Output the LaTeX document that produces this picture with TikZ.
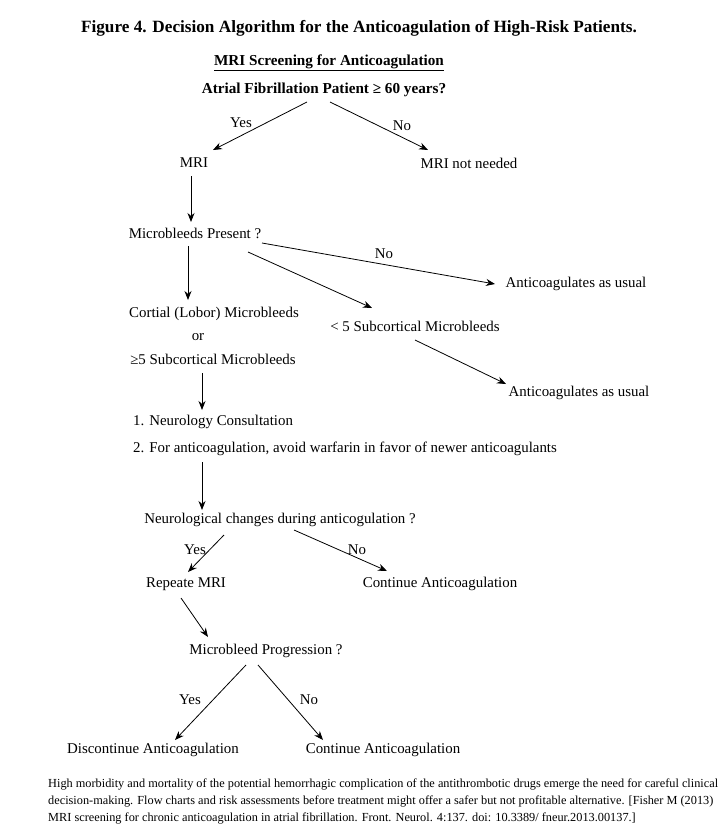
\documentclass[tikz,border=0pt]{standalone}
\usepackage{fontspec}
\setmainfont{Liberation Serif}
\usetikzlibrary{arrows.meta}
\tikzset{
  txt/.style={inner sep=1pt, font=\fontsize{14.9}{16}\selectfont},
  bt/.style={inner sep=1pt, font=\fontsize{15.2}{17}\selectfont\bfseries},
  titletxt/.style={inner sep=1pt, font=\fontsize{17.2}{19}\selectfont\bfseries},
  captxt/.style={inner sep=0pt, anchor=west, font=\fontsize{12.3}{14}\selectfont},
  arr/.style={line width=0.8pt, -{Stealth[length=9pt,width=7pt]}},
}
\begin{document}
\begin{tikzpicture}[x=1pt,y=-1pt]
\useasboundingbox (0,0) rectangle (727,833);
% title and header
\node[titletxt] (title) at (359,28) {Figure 4. Decision Algorithm for the Anticoagulation of High-Risk Patients.};
\node[bt] (head) at (329,63) {\underline{MRI Screening for Anticoagulation}};
\node[bt] (q0) at (324,90) {Atrial Fibrillation Patient ≥ 60 years?};
% nodes
\node[txt] (mri) at (194,163) {MRI};
\node[txt] (mrin) at (469,163) {MRI not needed};
\node[txt] (q1) at (195,233) {Microbleeds Present ?};
\node[txt] (cort) at (214,314) {Cortial (Lobor) Microbleeds};
\node[txt] (or) at (198,337) {or};
\node[txt] (ge5) at (213,359) {≥5 Subcortical Microbleeds};
\node[txt] (au1) at (576,284) {Anticoagulates as usual};
\node[txt] (lt5) at (415,326) {< 5 Subcortical Microbleeds};
\node[txt] (au2) at (579,393) {Anticoagulates as usual};
\node[txt,anchor=west] (n1) at (132,422) {1. Neurology Consultation};
\node[txt,anchor=west] (n2) at (132,449) {2. For anticoagulation, avoid warfarin in favor of newer anticoagulants};
\node[txt] (q2) at (280,520) {Neurological changes during anticogulation ?};
\node[txt] (rep) at (186,584) {Repeate MRI};
\node[txt] (cont1) at (440,584) {Continue Anticoagulation};
\node[txt] (q3) at (266,651) {Microbleed Progression ?};
\node[txt] (disc) at (153,750) {Discontinue Anticoagulation};
\node[txt] (cont2) at (383,750) {Continue Anticoagulation};
% labels
\node[txt] (l1) at (241,123) {Yes};
\node[txt] (l2) at (402,126) {No};
\node[txt] (l3) at (384,254) {No};
\node[txt] (l4) at (195,550) {Yes};
\node[txt] (l5) at (357,550) {No};
\node[txt] (l6) at (190,700) {Yes};
\node[txt] (l7) at (309,700) {No};
% caption
\node[captxt] (c1) at (48,784) {High morbidity and mortality of the potential hemorrhagic complication of the antithrombotic drugs emerge the need for careful clinical};
\node[captxt] (c2) at (48,801) {decision-making. Flow charts and risk assessments before treatment might offer a safer but not profitable alternative. [Fisher M (2013)};
\node[captxt] (c3) at (48,818) {MRI screening for chronic anticoagulation in atrial fibrillation. Front. Neurol. 4:137. doi: 10.3389/ fneur.2013.00137.]};
% connectors
\draw[arr] ([shift={(-17,12)}]q0.center) -- ([shift={(19,-13)}]mri.center);
\draw[arr] ([shift={(6,12)}]q0.center) -- ([shift={(-41,-13)}]mrin.center);
\draw[arr] ([shift={(-3,13)}]mri.center) -- ([shift={(-4,-11)}]q1.center);
\draw[arr] ([shift={(-7,13)}]q1.center) -- ([shift={(-26,-14)}]cort.center);
\draw[arr] ([shift={(67,10)}]q1.center) -- ([shift={(-81,0)}]au1.center);
\draw[arr] ([shift={(53,19)}]q1.center) -- ([shift={(-43,-18)}]lt5.center);
\draw[arr] ([shift={(0,14)}]lt5.center) -- ([shift={(-73,-9)}]au2.center);
\draw[arr] ([shift={(-11,14)}]ge5.center) -- ([shift={(70,-12)}]n1.west);
\draw[arr] ([shift={(70,13)}]n2.west) -- ([shift={(-78,-10)}]q2.center);
\draw[arr] ([shift={(-56,15)}]q2.center) -- ([shift={(2,-12)}]rep.center);
\draw[arr] ([shift={(14,10)}]q2.center) -- ([shift={(-53,-13)}]cont1.center);
\draw[arr] ([shift={(-5,14)}]rep.center) -- ([shift={(-58,-14)}]q3.center);
\draw[arr] ([shift={(-20,14)}]q3.center) -- ([shift={(22,-10)}]disc.center);
\draw[arr] ([shift={(-8,14)}]q3.center) -- ([shift={(-60,-10)}]cont2.center);
\end{tikzpicture}
\end{document}
